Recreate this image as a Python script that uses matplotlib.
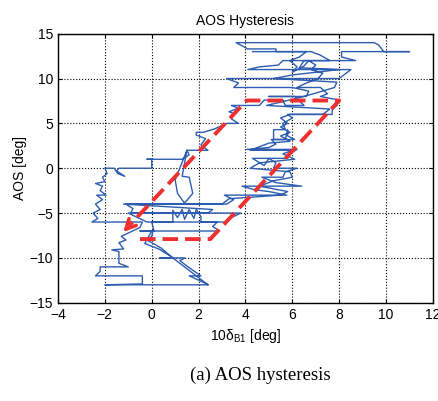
import numpy as np
import matplotlib.pyplot as plt

# measured trace: 10*delta_B1 [deg] vs AOS [deg]
blue_x = [2.4, -2.0, -0.4, -0.4, -2.4, -2.2, -2.2, -1.0, -1.4, -1.4,
          -1.7, -1.2, -1.4, -1.1, -1.3, -0.9, -0.5, -0.4, -2.55, -2.3,
          -2.5, -2.2, -2.4, -2.1, -2.35, -1.95, -2.2, -2.1, -2.4, -2.0,
          -2.1, -1.9, -2.0, -1.6, -1.45, -1.15, -1.5, -1.4, 0.0, 0.0,
          -0.2, 1.3, 1.6, 1.5, 1.0, 1.1, 1.4, 1.75, 1.6, 1.3,
          1.5, 2.4, 2.1, 2.3, 1.9, 1.9, 2.2, 2.7, 3.2, 3.7,
          3.4, 3.5, 3.3, 3.7, 3.4, 4.6, 4.8, 5.6, 5.7, 6.5,
          6.1, 5.0, 6.6, 6.7, 6.0, 3.5, 3.7, 3.2, 8.0, 8.5,
          4.1, 4.6, 5.4, 5.6, 8.7, 8.1, 8.1, 11.0, 9.9, 9.7,
          9.5, 3.6, 4.1, 5.3, 5.3, 6.6, 6.3, 5.9, 6.2, 6.0,
          6.5, 6.7, 7.0, 6.8, 7.3, 7.1, 6.6, 6.2, 7.2, 7.5,
          7.2, 8.0, 7.9, 7.7, 7.7, 5.8, 6.0, 5.6, 5.7, 5.2,
          5.2, 6.1, 5.8, 5.8, 5.7, 5.1, 5.3, 5.0, 4.05, 6.2,
          5.9, 5.8, 4.3, 4.8, 5.0, 5.3, 5.2, 6.2, 5.7, 5.6,
          4.7, 5.3, 6.4, 3.85, 4.4, 5.0, 5.76, 3.1, 3.5, 3.2,
          -1.1, -0.8, -0.9, 3.8, 3.4, 3.1, 2.1, 2.1, 1.9, 1.8,
          1.6, 1.4, 1.3, 1.1, 0.9, 0.9, 0.0, 0.1, -0.5, 0.05,
          0.0, -0.2, 0.4, 0.9, 0.35, 1.42, 1.2, 1.55, 2.1, 1.6,
          2.35, 2.4,
          # second pass
          2.0, 1.5, 0.8, 0.3, -0.3, 0.0, 2.9, 2.6, 2.8, -0.2,
          -0.6, -1.0, 2.4, 2.6, -1.2, -0.9, 3.0, 3.3, 5.5, 5.8,
          4.6, 5.2, 6.0, 5.9, 4.2, 4.6, 6.1, 5.6, 6.0, 4.2,
          5.0, 5.9, 5.5, 5.9, 5.5, 5.8, 5.5, 5.9, 7.3, 7.6,
          4.9, 6.2, 6.9, 7.8, 7.9, 5.2, 6.0, 8.0, 6.3, 6.5,
          7.6, 7.2, 6.8, 4.3]
blue_y = [-13.0, -13.0, -12.9, -12.0, -12.0, -11.5, -11.0, -11.0, -10.6, -9.3,
          -9.1, -9.0, -8.3, -8.0, -7.6, -7.1, -6.6, -6.0, -6.0, -5.6,
          -5.0, -4.6, -4.0, -3.5, -3.0, -3.0, -2.5, -2.0, -1.7, -1.5,
          -1.0, -0.6, 0.0, 0.0, -0.6, -0.9, -0.3, 0.0, 0.0, 1.0,
          1.0, 1.0, 1.5, 2.0, -1.3, -2.8, -3.9, -2.8, -1.0, -0.9,
          2.0, 2.0, 2.6, 3.3, 3.7, 4.0, 4.0, 4.4, 5.0, 5.0,
          5.5, 6.1, 6.3, 6.7, 7.0, 7.0, 7.6, 7.6, 7.0, 7.0,
          8.0, 8.0, 8.0, 8.6, 9.0, 9.0, 9.5, 10.0, 10.0, 11.0,
          11.0, 11.3, 11.5, 12.0, 12.0, 12.4, 13.0, 13.0, 13.0, 13.7,
          14.0, 14.0, 13.3, 13.3, 13.0, 13.0, 12.4, 12.0, 11.3, 10.7,
          11.4, 12.0, 11.5, 11.0, 10.6, 10.0, 9.5, 9.0, 9.0, 8.3,
          8.0, 7.6, 7.0, 6.5, 6.0, 6.0, 5.6, 5.0, 4.3, 4.3,
          3.2, 3.2, 3.6, 4.3, 3.2, 3.2, 2.7, 2.3, 2.1, 2.1,
          1.6, 1.1, 1.1, 0.3, 1.1, 0.6, 0.0, 0.0, -0.4, -1.0,
          -1.0, -1.6, -2.0, -2.0, -2.4, -2.6, -3.0, -3.0, -3.5, -4.0,
          -4.0, -4.5, -5.0, -5.0, -5.5, -6.0, -6.0, -5.4, -4.6, -5.6,
          -4.6, -5.7, -4.6, -5.5, -4.7, -6.0, -6.0, -7.0, -7.0, -7.0,
          -7.6, -8.0, -8.9, -10.0, -10.0, -10.0, -10.3, -11.0, -12.0, -12.0,
          -12.9, -13.0,
          # second pass
          -12.2, -11.2, -9.8, -9.0, -8.4, -7.0, -7.0, -6.5, -6.0, -6.0,
          -5.5, -5.0, -5.0, -4.6, -4.0, -4.0, -4.0, -3.4, -3.0, -2.6,
          -2.0, -1.4, -1.0, -0.4, 0.0, 0.6, 1.0, 1.6, 2.0, 2.0,
          2.8, 3.0, 3.6, 4.0, 4.6, 5.0, 5.6, 6.0, 6.0, 6.6,
          7.0, 7.8, 8.3, 9.0, 9.6, 10.0, 10.4, 11.0, 11.2, 12.0,
          12.0, 12.6, 13.0, 13.0]

# hand-drawn hysteresis guide
red_x = [-0.5, 2.5, 8.0, 4.05, -1.3]
red_y = [-7.9, -7.9, 7.55, 7.55, -7.35]

xticks = [-4, -2, 0, 2, 4, 6, 8, 10, 12]
yticks = [-15, -10, -5, 0, 5, 10, 15]

plt.rcParams['font.family'] = ['Liberation Sans', 'DejaVu Sans']
plt.rcParams['mathtext.fontset'] = 'custom'
plt.rcParams['mathtext.rm'] = 'Liberation Sans'
plt.rcParams['mathtext.it'] = 'Liberation Sans:italic'

fig = plt.figure(figsize=(4.38, 4.01), dpi=100)
ax = fig.add_axes([0.1324, 0.245, 0.856, 0.671])

ax.plot(blue_x, blue_y, color='#2d5db0', lw=1.0)
ax.plot(red_x[:-1] + [red_x[-1] + 0.25], red_y[:-1] + [red_y[-1] + 0.7],
        color='#ee3030', lw=2.8, ls=(0, (4, 1.8)), solid_joinstyle='round')
ax.annotate('', xy=(red_x[-1], red_y[-1]), xytext=(red_x[-1] + 0.45, red_y[-1] + 1.25),
            arrowprops=dict(arrowstyle='->, head_length=0.7, head_width=0.35',
                            color='#ee3030', lw=2.6))

ax.set_xlim(-4, 12)
ax.set_ylim(-15, 15)
ax.set_xticks(xticks)
ax.set_yticks(yticks)
ax.grid(True, color='black', ls=':', lw=0.8)
ax.tick_params(direction='in', top=True, right=True, length=3, labelsize=10)
for s in ax.spines.values():
    s.set_linewidth(1.0)

ax.set_title('AOS Hysteresis', fontsize=10, pad=6)
ax.set_xlabel('10δ$_{\\rm B1}$ [deg]', fontsize=10, labelpad=4)
ax.set_ylabel('AOS [deg]', fontsize=10, labelpad=2)
fig.text(0.595, 0.063, '(a) AOS hysteresis', ha='center', va='center',
         family='Liberation Serif', fontsize=13.5)

fig.savefig('out.png', dpi=100)
